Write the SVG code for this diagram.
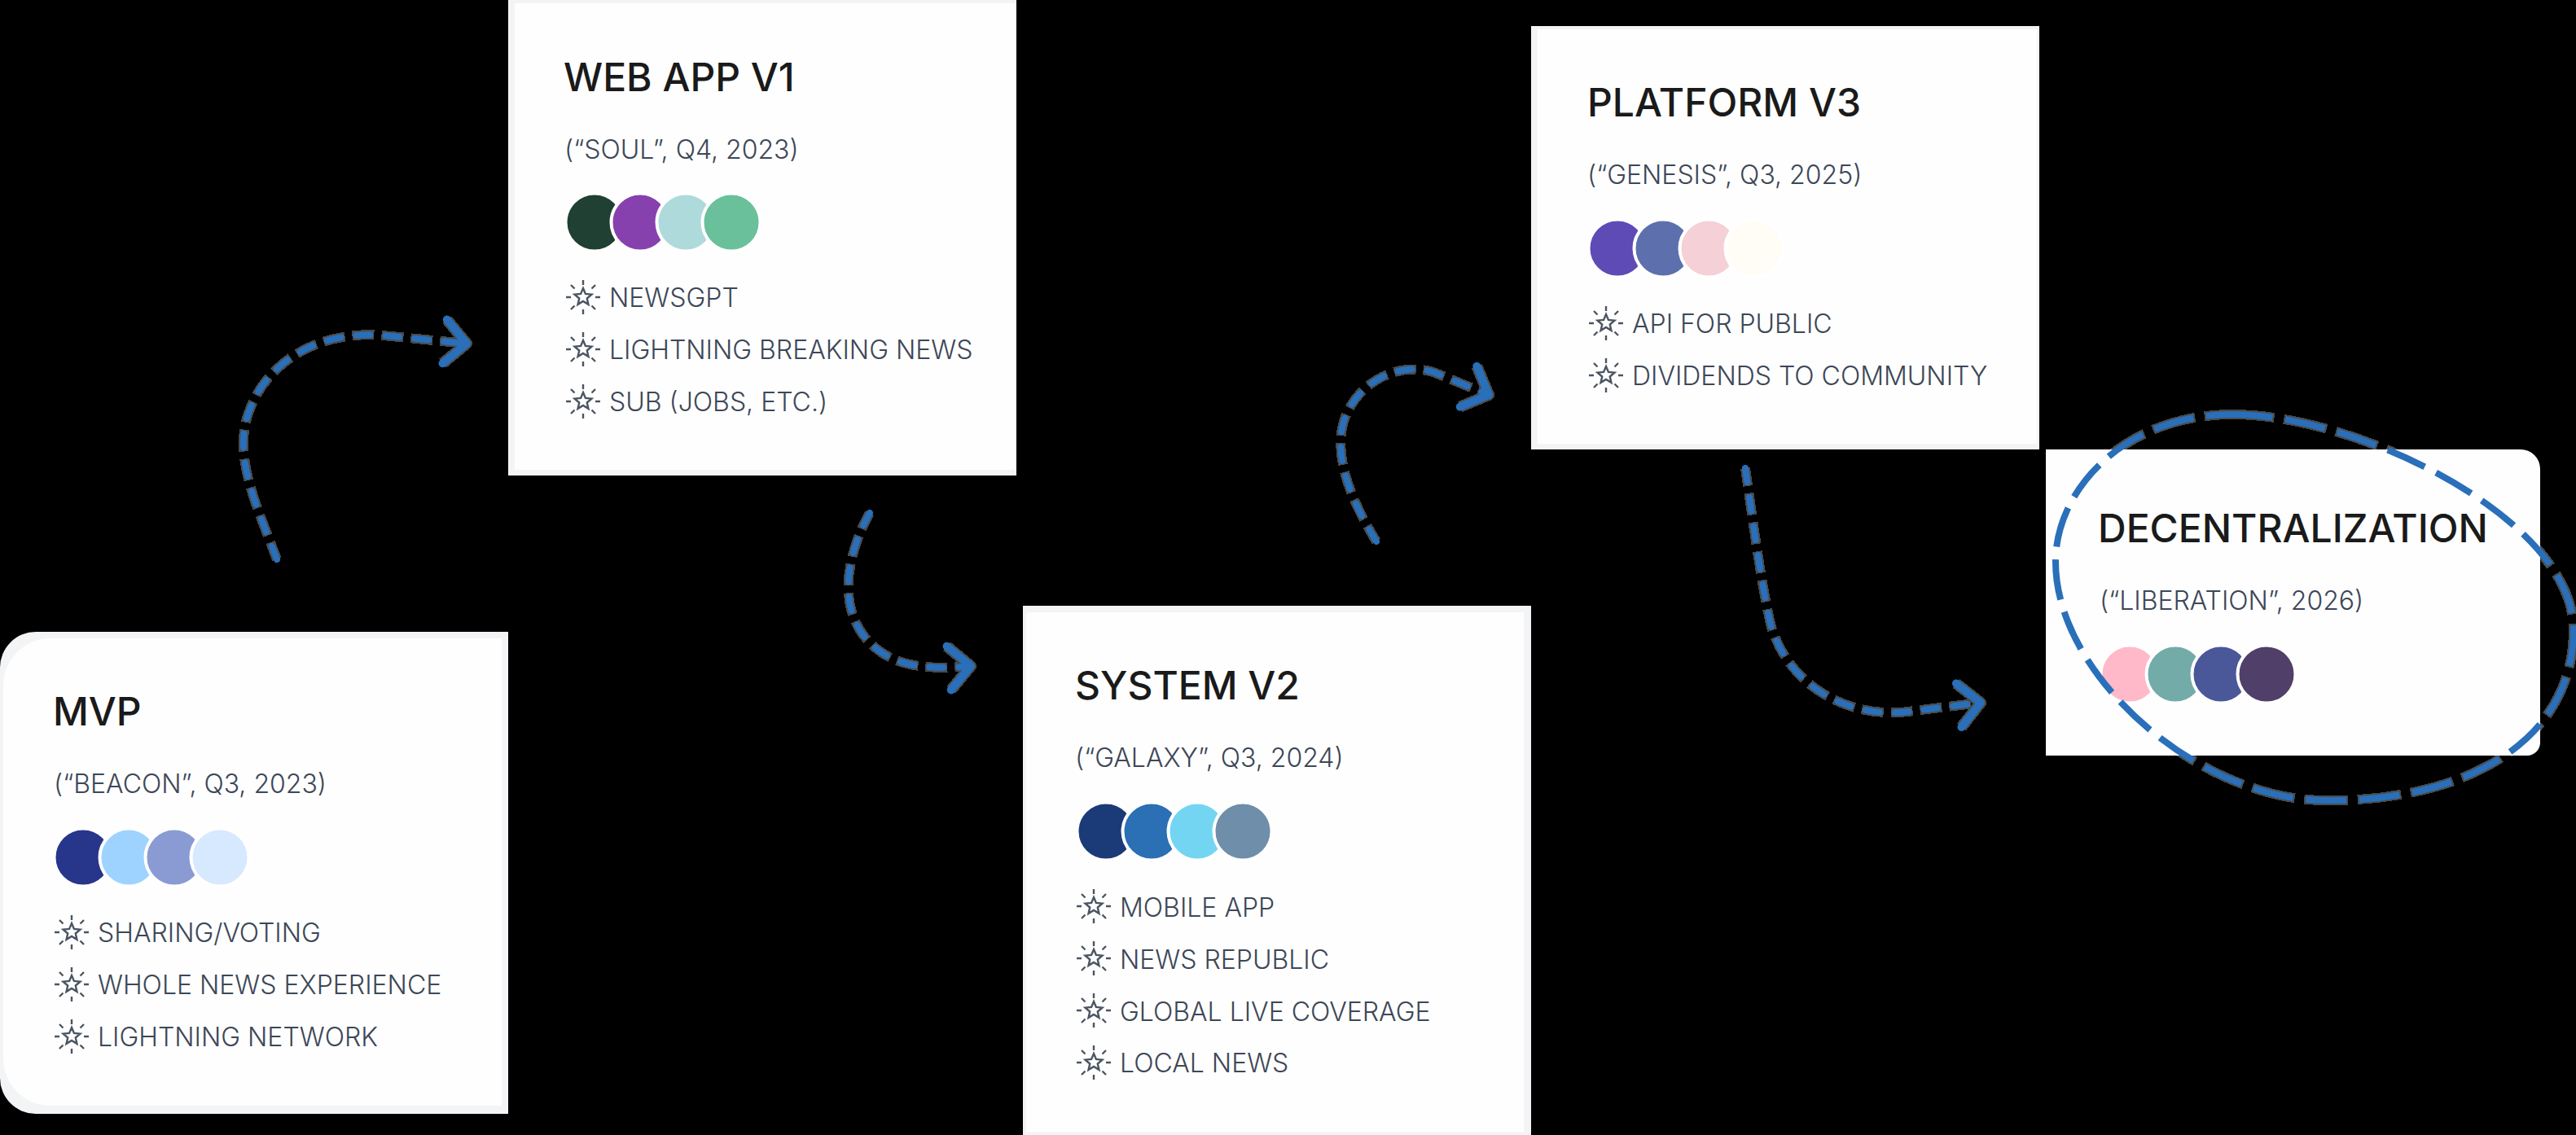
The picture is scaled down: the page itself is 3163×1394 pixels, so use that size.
<svg xmlns="http://www.w3.org/2000/svg" width="3163" height="1394" viewBox="0 0 3163 1394">
<style>
.t{font-family:"Inter","Liberation Sans",sans-serif;font-size:48px;font-weight:450;fill:#1a1a1a}
.s{font-family:"Inter","Liberation Sans",sans-serif;font-size:32px;font-weight:300;fill:#3d4757}
.i{font-family:"Inter","Liberation Sans",sans-serif;font-size:32px;font-weight:300;fill:#3d4757}
.o{fill:#f3f4f6}
.w{fill:#fefefe}
circle{stroke:#fff;stroke-width:4}
.spark{fill:none;stroke:#4b5563;stroke-width:2.4}
.halo{fill:none;stroke:#4a4a4a;stroke-width:12;stroke-dasharray:27 9;stroke-dashoffset:5;shape-rendering:crispEdges;marker-end:url(#headh)}
.conn{fill:none;stroke:#2a6fb9;stroke-width:8;stroke-linecap:round;stroke-dasharray:17 19;marker-end:url(#head)}
.rh{fill:none;stroke:#4a4a4a;stroke-width:12;stroke-dasharray:54 11.6;stroke-dashoffset:2;shape-rendering:crispEdges}
.ring{fill:none;stroke:#2a6fb9;stroke-width:8;stroke-dasharray:50 15.6}
</style>
<defs>
<marker id="head" markerUnits="userSpaceOnUse" markerWidth="90" markerHeight="90" viewBox="-45 -45 90 90" refX="0" refY="0" orient="auto">
<path d="M-27,-27 L0,0 L-27,27" fill="none" stroke="#2a6fb9" stroke-width="10" stroke-linecap="round" stroke-linejoin="round"/>
</marker>
<marker id="headh" markerUnits="userSpaceOnUse" markerWidth="90" markerHeight="90" viewBox="-45 -45 90 90" refX="0" refY="0" orient="auto">
<path d="M-27,-27 L0,0 L-27,27" fill="none" stroke="#4a4a4a" stroke-width="14" stroke-linejoin="round" shape-rendering="crispEdges"/>
</marker>
<g id="spark" class="spark">
<polygon points="0,-11 2.94,-4.05 10.46,-3.4 4.76,1.55 6.47,8.9 0,5 -6.47,8.9 -4.76,1.55 -10.46,-3.4 -2.94,-4.05"/>
<path d="M0,-21V-15M0,15V21M-21,0H-15M15,0H21M-15,-15L-10.5,-10.5M15,-15L10.5,-10.5M-15,15L-10.5,10.5M15,15L10.5,10.5"/>
</g>
</defs>
<rect width="3163" height="1394" fill="#000"/>
<g id="halos">
<path class="halo" d="M340,687 C315,620 285,560 306,505 C325,450 385,405 470,412 L573,422"/>
<path class="halo" d="M1068,630 C1040,680 1030,740 1060,780 C1085,812 1120,825 1192,818"/>
<path class="halo" d="M1690,665 C1650,600 1635,545 1655,505 C1675,465 1720,445 1760,457 L1828,485"/>
<path class="halo" d="M2143,575 C2155,660 2165,730 2175,770 C2200,850 2280,885 2350,873 L2432,863"/>
<path class="rh" d="M2741,509 C2900,509 3160,640 3160,773 C3160,915 3020,985 2855,983 C2700,983 2524,830 2524,690 C2524,600 2610,509 2741,509Z"/>
</g>
<g id="mvp">
<path class="o" d="M44,776H624V1368H44A44,44 0 0 1 0,1324V820A44,44 0 0 1 44,776Z"/>
<path class="w" d="M62,784H616V1358H62A58,58 0 0 1 4,1300V842A58,58 0 0 1 62,784Z"/>
<text class="t" x="65" y="891">MVP</text>
<text class="s" x="66" y="974">(“BEACON”, Q3, 2023)</text>
<circle cx="102" cy="1053" r="35.5" fill="#27358a"/><circle cx="158" cy="1053" r="35.5" fill="#9fd3ff"/><circle cx="214" cy="1053" r="35.5" fill="#8a9bd4"/><circle cx="270" cy="1053" r="35.5" fill="#d6e9ff"/>
<use href="#spark" x="88" y="1145"/><text class="i" x="120" y="1157">SHARING/VOTING</text>
<use href="#spark" x="88" y="1209"/><text class="i" x="120" y="1221">WHOLE NEWS EXPERIENCE</text>
<use href="#spark" x="88" y="1273"/><text class="i" x="120" y="1285">LIGHTNING NETWORK</text>
</g>
<g id="webapp">
<rect class="o" x="624" y="0" width="624" height="584"/>
<rect class="w" x="632" y="4" width="616" height="573"/>
<text class="t" x="692" y="112">WEB APP V1</text>
<text class="s" x="693" y="195">(“SOUL”, Q4, 2023)</text>
<circle cx="730" cy="273" r="35.5" fill="#1f4032"/><circle cx="786" cy="273" r="35.5" fill="#8741ae"/><circle cx="842" cy="273" r="35.5" fill="#aedadb"/><circle cx="898" cy="273" r="35.5" fill="#69c09a"/>
<use href="#spark" x="716" y="365"/><text class="i" x="748" y="377">NEWSGPT</text>
<use href="#spark" x="716" y="429"/><text class="i" x="748" y="441">LIGHTNING BREAKING NEWS</text>
<use href="#spark" x="716" y="493"/><text class="i" x="748" y="505">SUB (JOBS, ETC.)</text>
</g>
<g id="system">
<rect class="o" x="1256" y="744" width="624" height="650"/>
<rect class="w" x="1260" y="752" width="611" height="638"/>
<text class="t" x="1320" y="859">SYSTEM V2</text>
<text class="s" x="1320" y="942">(“GALAXY”, Q3, 2024)</text>
<circle cx="1358" cy="1021" r="35.5" fill="#1b3a78"/><circle cx="1414" cy="1021" r="35.5" fill="#2b6fb5"/><circle cx="1470" cy="1021" r="35.5" fill="#74d5f3"/><circle cx="1526" cy="1021" r="35.5" fill="#6e8eaa"/>
<use href="#spark" x="1343" y="1113"/><text class="i" x="1375" y="1126">MOBILE APP</text>
<use href="#spark" x="1343" y="1177"/><text class="i" x="1375" y="1190">NEWS REPUBLIC</text>
<use href="#spark" x="1343" y="1241"/><text class="i" x="1375" y="1254">GLOBAL LIVE COVERAGE</text>
<use href="#spark" x="1343" y="1305"/><text class="i" x="1375" y="1317">LOCAL NEWS</text>
</g>
<g id="platform">
<rect class="o" x="1880" y="32" width="624" height="520"/>
<rect class="w" x="1888" y="36" width="613" height="509"/>
<text class="t" x="1949" y="143">PLATFORM V3</text>
<text class="s" x="1949" y="226">(“GENESIS”, Q3, 2025)</text>
<circle cx="1986" cy="305" r="35.5" fill="#5f4bb6"/><circle cx="2042" cy="305" r="35.5" fill="#5d70ad"/><circle cx="2098" cy="305" r="35.5" fill="#f5d0d6"/><circle cx="2154" cy="305" r="35.5" fill="#fffdf5"/>
<use href="#spark" x="1972" y="397"/><text class="i" x="2004" y="409">API FOR PUBLIC</text>
<use href="#spark" x="1972" y="461"/><text class="i" x="2004" y="473">DIVIDENDS TO COMMUNITY</text>
</g>
<g id="decentralization">
<path class="w" d="M2512,552H3095A24,24 0 0 1 3119,576V912A16,16 0 0 1 3103,928H2512Z"/>
<text class="t" x="2576" y="666">DECENTRALIZATION</text>
<text class="s" x="2578" y="749">(“LIBERATION”, 2026)</text>
<circle cx="2615" cy="828" r="35.5" fill="#ffb9c9"/><circle cx="2671" cy="828" r="35.5" fill="#73aba9"/><circle cx="2727" cy="828" r="35.5" fill="#4a5799"/><circle cx="2783" cy="828" r="35.5" fill="#503f68"/>
</g>
<g id="connectors">
<path class="conn" d="M340,687 C315,620 285,560 306,505 C325,450 385,405 470,412 L573,422"/>
<path class="conn" d="M1068,630 C1040,680 1030,740 1060,780 C1085,812 1120,825 1192,818"/>
<path class="conn" d="M1690,665 C1650,600 1635,545 1655,505 C1675,465 1720,445 1760,457 L1828,485"/>
<path class="conn" d="M2143,575 C2155,660 2165,730 2175,770 C2200,850 2280,885 2350,873 L2432,863"/>
<path class="ring" d="M2741,509 C2900,509 3160,640 3160,773 C3160,915 3020,985 2855,983 C2700,983 2524,830 2524,690 C2524,600 2610,509 2741,509Z"/>
</g>
</svg>
